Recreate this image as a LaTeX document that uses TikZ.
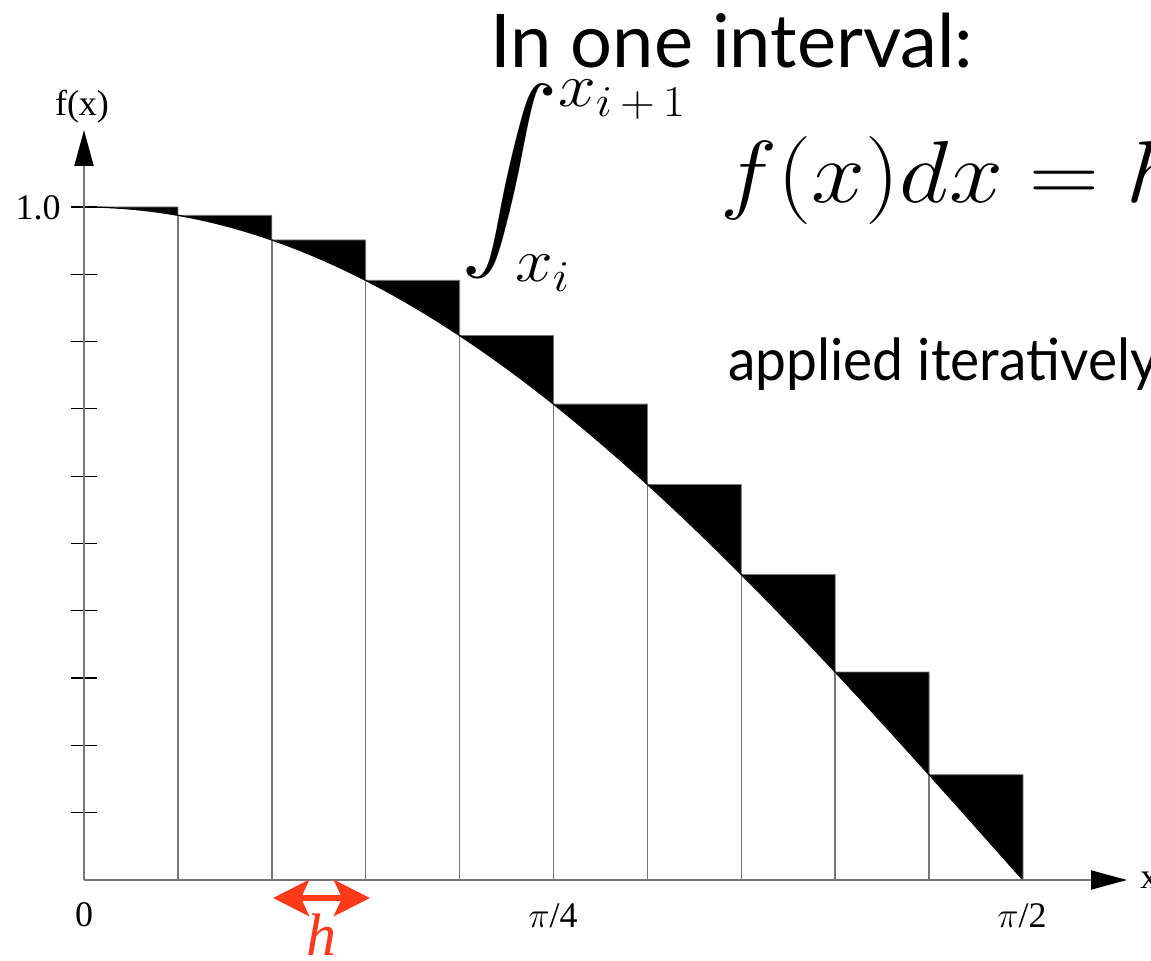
\RequirePackage{fix-cm}
\documentclass[tikz,border=0pt]{standalone}
\usepackage[no-math]{fontspec}
\setmainfont{Liberation Serif}
\newfontfamily\slidefont{Lato}
\DeclareFontShape{OMX}{cmex}{m}{n}{<-> cmex10}{}
\usetikzlibrary{arrows.meta, positioning, calc}
\definecolor{sgray}{HTML}{777777}
\definecolor{sred}{HTML}{FF3A1A}
\tikzset{
  axisline/.style={draw=sgray, line width=1pt,
    -{Triangle[length=18pt, width=9.5pt, color=black]}},
  stripline/.style={draw=sgray, line width=0.75pt},
  ytick/.style={draw=black, line width=0.6pt},
  wedge/.style={fill=black, draw=sgray, line width=0.4pt},
  curve/.style={draw=black, line width=0.6pt},
  lbl/.style={font=\fontsize{18}{20}\selectfont},
  slide/.style={font=\fontsize{#1}{#1}\slidefont, anchor=base west, inner sep=0pt},
  formula/.style={font=\fontsize{44}{44}\selectfont, anchor=base west, inner sep=0pt},
  harrow/.style={draw=sred, line width=3pt,
    {Stealth[length=18pt, width=18pt, inset=4pt]}-{Stealth[length=18pt, width=18pt, inset=4pt]}}
}

\begin{document}
\begin{tikzpicture}[x=0.5pt, y=-0.5pt]
  \useasboundingbox (0,0) rectangle (1151,961);
  % axes
  \coordinate (O) at (84,880);
  \coordinate (xend) at (1127,880);
  \coordinate (yend) at (84,130);
  % shaded wedges between step and curve
  \foreach \i in {0,...,9} {
    \pgfmathsetmacro\xa{84+93.9*\i}
    \pgfmathsetmacro\xb{84+93.9*(\i+1)}
    \pgfmathsetmacro\ya{880-673*cos(9*\i)}
    \pgfmathsetmacro\yb{880-673*cos(9*(\i+1))}
    \pgfmathsetmacro\da{9*\i}
    \pgfmathsetmacro\db{9*(\i+1)}
    \filldraw[wedge] (\xa,\ya) -- (\xb,\ya) -- (\xb,\yb)
      -- plot[domain=\db:\da, samples=15] ({84+10.4333*\x},{880-673*cos(\x)}) -- cycle;
  }
  \foreach \i in {1,...,9} {
    \pgfmathsetmacro\xa{84+93.9*\i}
    \pgfmathsetmacro\ya{880-673*cos(9*\i)}
    \draw[stripline] (\xa,880) -- (\xa,\ya);
  }
  \draw[curve] plot[domain=0:90, samples=91] ({84+10.4333*\x},{880-673*cos(\x)});
  \foreach \k in {1,...,10}
    \draw[ytick] (71,{880-67.3*\k}) -- (97,{880-67.3*\k});
  \draw[axisline] (O) -- (xend);
  \draw[axisline] (O) -- (yend);
  % axis labels
  \node[lbl, anchor=base] (fx) at (82,116) {f(x)};
  \node[lbl, anchor=base east, inner sep=0pt] (one) at (61,220) {1.0};
  \node[lbl, anchor=base] (zero) at (84,926) {0};
  \node[lbl, anchor=base] (piq) at (553,927) {$\pi$/4};
  \node[lbl, anchor=base] (pih) at (1022,927) {$\pi$/2};
  \node[lbl, anchor=base west, inner sep=0pt] (xlab) at (1140,888) {x};
  % step width
  \coordinate (hl) at (273,898);
  \coordinate (hr) at (370,898);
  \draw[harrow] (hl) -- (hr);
  \node[font=\fontsize{30}{30}\selectfont\itshape, text=sred, anchor=base] (hlab) at (321,955) {h};
  % slide text
  \node[slide=37] (title) at (490,68) {In one interval:};
  \node[formula] (intg) at (461,203)
    {\scalebox{1.1}[1]{$\displaystyle\int_{x_i}^{x_{i\mskip3mu+\mskip3mu1}}$}};
  \node[formula] (rule) at (720,203) {\scalebox{1.1}[1]{$f(x)dx = h$}};
  \node[slide=29] (iter) at (728,381) {\scalebox{0.95}[1]{applied iteratively}};
\end{tikzpicture}
\end{document}
